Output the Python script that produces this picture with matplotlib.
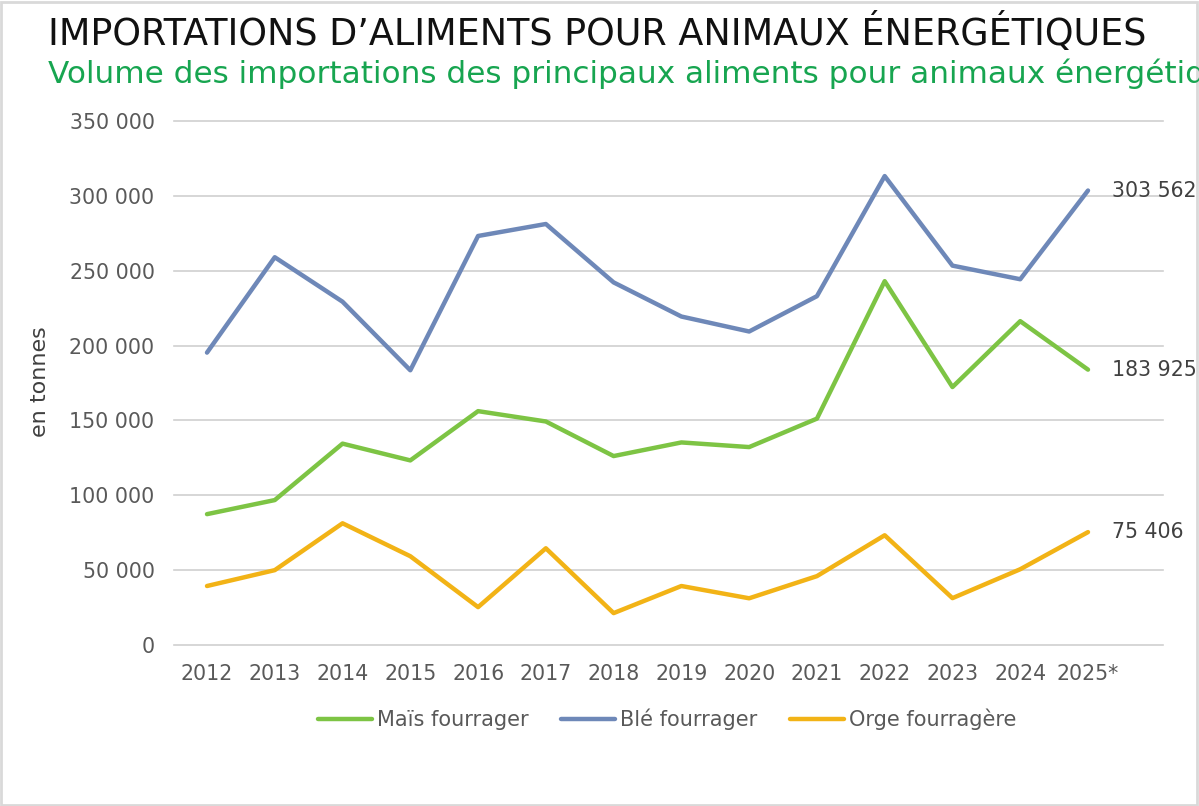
import matplotlib
matplotlib.use("Agg")
import matplotlib.pyplot as plt
from matplotlib.ticker import FuncFormatter
from matplotlib.patches import Rectangle

# Data
years = ["2012", "2013", "2014", "2015", "2016", "2017", "2018",
         "2019", "2020", "2021", "2022", "2023", "2024", "2025*"]
mais = [87400, 96800, 134500, 123300, 156200, 149300, 126200,
        135300, 132200, 151200, 243000, 172300, 216300, 183925]
ble = [195300, 259000, 229300, 183500, 273200, 281200, 242200,
       219400, 209400, 233000, 313200, 253400, 244300, 303562]
orge = [39400, 50000, 81300, 59300, 25300, 64600, 21300,
        39400, 31200, 46000, 73300, 31300, 50600, 75406]

series = [
    ("Maïs fourrager", mais, "#7DC444"),
    ("Blé fourrager", ble, "#6E88B8"),
    ("Orge fourragère", orge, "#F2B316"),
]

plt.rcParams['font.family'] = ['DejaVu Sans']

fig = plt.figure(figsize=(11.99, 8.06), dpi=100)
fig.patches.append(Rectangle((0.001, 0.001), 0.997, 0.997, transform=fig.transFigure,
                             fill=False, edgecolor="#D9D9D9", linewidth=2))

W, H = 1199, 806
ax = fig.add_axes([174 / W, 1 - 645 / H, (1163 - 174) / W, (645 - 121) / H])

x = list(range(len(years)))
for name, vals, col in series:
    ax.plot(x, vals, color=col, linewidth=3.2, label=name, solid_capstyle="round")
    ax.annotate(f"{vals[-1]:,}".replace(",", " "), xy=(x[-1], vals[-1]),
                xytext=(17, 0), textcoords="offset points", va="center", ha="left",
                fontsize=14.8, color="#404040", annotation_clip=False)

step = (1088 - 207) / 13
ax.set_xlim(-(207 - 174) / step, 13 + (1163 - 1088) / step)
ax.set_ylim(0, 350000)
ax.set_yticks(range(0, 350001, 50000))
ax.yaxis.set_major_formatter(FuncFormatter(lambda v, p: f"{int(v):,}".replace(",", " ")))
ax.set_xticks(x)
ax.set_xticklabels(years)

ax.grid(axis="y", color="#D0D0D0", linewidth=1.2)
for gl in ax.yaxis.get_gridlines():
    gl.set_clip_on(False)
ax.set_axisbelow(True)
for s in ax.spines.values():
    s.set_visible(False)
ax.tick_params(axis="both", length=0, labelsize=14.8, labelcolor="#595959")
ax.tick_params(axis="y", pad=14)
ax.tick_params(axis="x", pad=14)

fig.text(40 / W, 1 - 382 / H, "en tonnes", rotation=90, ha="center", va="center",
         fontsize=16, color="#404040")

fig.text(48 / W, 1 - 33 / H, "IMPORTATIONS D\u2019ALIMENTS POUR ANIMAUX ÉNERGÉTIQUES",
         ha="left", va="center", fontsize=26.3, color="#111111")
# subtitle runs past the right edge in the original as well
fig.text(48 / W, 1 - 74 / H,
         "Volume des importations des principaux aliments pour animaux énergétiques",
         ha="left", va="center", fontsize=22.4, color="#17A550")

ax.legend(loc="center", bbox_to_anchor=(0.4985, -0.142), ncol=3, frameon=False,
          fontsize=15, labelcolor="#595959", handlelength=2.6, handletextpad=0.25,
          columnspacing=1.55)

fig.savefig("out.png", dpi=100)
